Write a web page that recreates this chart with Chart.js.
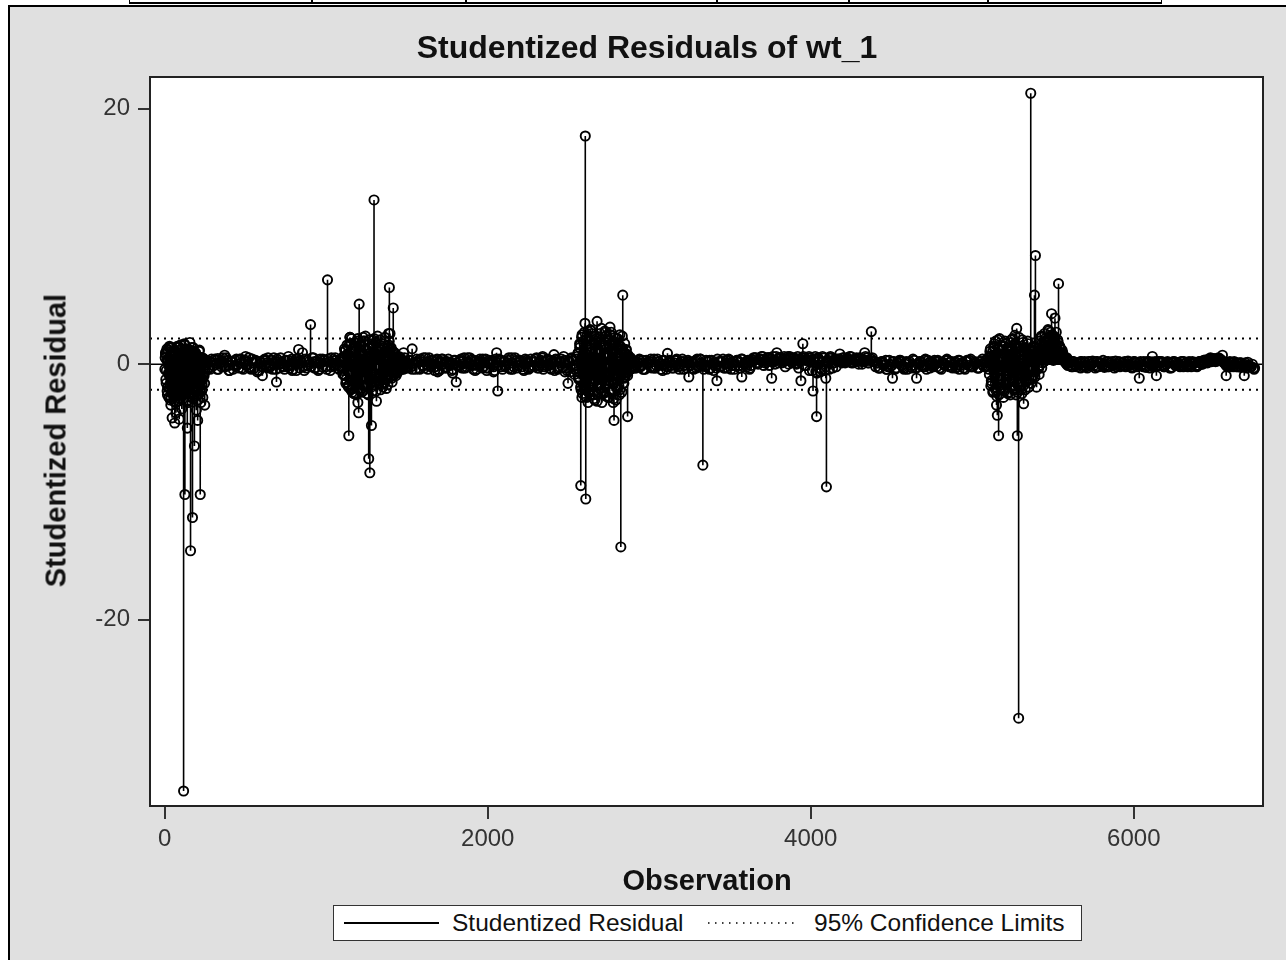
<!DOCTYPE html>
<html><head><meta charset="utf-8">
<script src="https://cdn.jsdelivr.net/npm/chart.js@4/dist/chart.umd.min.js"></script>
<style>
html,body{margin:0;padding:0;background:#fff;width:1286px;height:960px;overflow:hidden;font-family:'Liberation Sans',Arial,sans-serif;}
#panel{position:absolute;left:8px;top:5px;width:1290px;height:970px;background:#e0e0e0;border-left:2px solid #000;border-top:2px solid #000;}
#tbl{position:absolute;left:129px;top:-1px;width:1031px;height:2px;border:1.5px solid #000;border-bottom-width:2px;background:#fff;}
.vl{position:absolute;top:0;width:1.5px;height:100%;background:#000;}
#wrap{position:absolute;left:0;top:0;width:1286px;height:960px;}
.txt{position:absolute;color:#111;white-space:nowrap;}
#title{left:0;width:1294px;text-align:center;top:31px;font-size:32px;line-height:32px;font-weight:bold;}
#xtitle{left:407px;width:600px;text-align:center;top:866px;font-size:29px;line-height:29px;font-weight:bold;}
#ytitle{left:-144px;width:400px;text-align:center;top:426px;font-size:29px;line-height:29px;font-weight:bold;transform:rotate(-90deg);}
#legend{position:absolute;left:333px;top:905px;width:747px;height:34px;border:1.5px solid #333;background:#fff;}
#legend .lt{position:absolute;top:0;font-size:24.5px;line-height:34px;color:#111;white-space:nowrap;}
#legend svg{position:absolute;left:0;top:0;}
</style></head>
<body>
<div id="tbl"><div class="vl" style="left:181px"></div><div class="vl" style="left:335px"></div><div class="vl" style="left:586px"></div><div class="vl" style="left:718px"></div><div class="vl" style="left:857px"></div></div>
<div id="panel"></div>
<div id="wrap"><canvas id="c" width="1286" height="960"></canvas></div>
<div class="txt" id="title">Studentized Residuals of wt_1</div>
<div class="txt" id="xtitle">Observation</div>
<div class="txt" id="ytitle">Studentized Residual</div>
<div id="legend">
<svg width="747" height="34"><line x1="10" y1="17" x2="105" y2="17" stroke="#000" stroke-width="2"/><line x1="374" y1="17" x2="464" y2="17" stroke="#000" stroke-width="1.5" stroke-dasharray="1.5 5.5"/></svg>
<span class="lt" style="left:118px">Studentized Residual</span>
<span class="lt" style="left:480px">95% Confidence Limits</span>
</div>
<script>
// ---- data: notable points, [observation, studentized residual] ----
const region1 = [[5,0.8],[10,-0.5],[14,1.2],[18,-1.8],[22,0.3],[26,-2.6],[30,1.4],[34,-0.9],[38,-3.2],[42,0.6],[46,-4.2],[50,-1.5],[54,1.0],[58,-2.2],[62,-4.6],[66,0.2],[70,-3.8],[74,1.3],[78,-1.1],[82,-2.9],[86,0.7],[90,-4.3],[94,-0.3],[98,1.5],[102,-2.4],[106,-3.5],[110,0.9],[114,-1.7],[117,-33.4],[121,1.6],[125,-10.2],[128,-0.8],[132,-2.0],[136,1.2],[140,-5.0],[144,0.4],[148,-3.0],[152,-1.3],[156,1.7],[160,-14.6],[164,-0.6],[168,0.9],[172,-12.0],[176,-2.7],[180,1.0],[184,-6.4],[188,-1.9],[192,0.5],[196,-3.6],[200,-1.2],[204,-4.4],[208,0.6],[212,-2.3],[216,-0.4],[220,-10.2],[224,-3.0],[228,0.2],[232,-1.6],[236,-2.6],[240,0.4],[244,-0.9],[248,-3.2],[252,0.3]];
const bandA = [[258,0.3],[281,-0.4],[305,0.1],[329,0.45],[352,-0.2],[371,0.7],[398,-0.5],[421,0.2],[447,-0.1],[472,0.4],[501,0.6],[524,-0.3],[549,0.1],[573,-0.6],[605,-0.9],[628,0.3],[651,-0.2],[676,0.5],[692,-1.4],[718,0.0],[742,-0.4],[767,0.3],[790,-0.5],[812,0.4],[829,1.15],[853,0.9],[876,-0.3],[903,3.1],[927,0.2],[951,-0.5],[978,0.4],[1008,6.6],[1031,-0.2],[1056,0.5],[1079,-0.4]];
const region3 = [[1092,0.4],[1104,-0.8],[1113,1.2],[1121,-1.5],[1130,0.6],[1140,-5.6],[1147,2.1],[1155,1.6],[1163,-1.9],[1170,0.3],[1178,-2.3],[1186,1.4],[1196,-3.0],[1201,-3.8],[1204,4.7],[1212,-1.2],[1220,0.8],[1228,-2.1],[1236,1.8],[1244,-0.6],[1252,1.1],[1258,-1.7],[1263,-7.4],[1270,-8.5],[1276,0.9],[1280,-4.8],[1287,1.9],[1296,12.85],[1303,-1.4],[1311,-2.9],[1318,0.7],[1326,-0.9],[1334,1.3],[1342,-1.6],[1350,0.5],[1358,-0.7],[1366,1.0],[1374,-1.1],[1380,0.6],[1386,2.4],[1391,6.0],[1395,2.4],[1402,1.3],[1409,-0.5],[1415,4.4],[1422,0.8],[1430,-0.4],[1440,-0.7],[1452,0.5],[1466,-0.3],[1479,0.9],[1492,0.2]];
const bandB = [[1508,-0.3],[1532,1.2],[1556,0.2],[1579,-0.4],[1603,0.5],[1627,-0.1],[1650,0.3],[1672,-0.5],[1690,-0.6],[1714,0.4],[1738,-0.2],[1761,0.1],[1783,-0.7],[1805,-1.4],[1829,0.3],[1852,-0.3],[1876,0.5],[1899,-0.1],[1922,-0.5],[1946,0.2],[1969,0.4],[1992,-0.3],[2014,0.1],[2036,-0.6],[2055,0.9],[2062,-2.1],[2085,0.3],[2108,-0.2],[2131,0.5],[2155,-0.4],[2178,0.1],[2201,0.3],[2224,-0.5],[2247,0.2],[2270,-0.2],[2293,0.4],[2316,-0.3],[2340,0.6],[2363,-0.1],[2386,0.3],[2410,0.75],[2433,-0.4],[2456,0.2],[2478,-0.6],[2497,-1.5],[2518,0.5],[2538,-0.8]];
const region5 = [[2552,0.6],[2561,-1.1],[2569,1.3],[2576,-9.5],[2583,-2.6],[2590,1.8],[2596,-1.9],[2602,3.2],[2604,17.85],[2607,-10.55],[2614,2.2],[2621,-3.0],[2628,0.9],[2635,-2.4],[2642,2.6],[2649,-1.3],[2656,1.7],[2663,-2.8],[2670,0.5],[2677,3.35],[2684,-1.6],[2691,2.1],[2698,-0.8],[2707,-3.0],[2714,1.4],[2721,-2.2],[2728,2.5],[2735,-1.0],[2742,0.7],[2749,-2.6],[2757,2.9],[2764,-1.4],[2770,1.6],[2777,-3.0],[2782,-4.4],[2790,0.8],[2797,-1.8],[2804,2.0],[2811,-0.9],[2818,-2.0],[2824,-14.3],[2830,1.1],[2836,5.4],[2843,-1.5],[2850,0.6],[2858,1.15],[2866,-4.1],[2874,-0.5],[2886,0.4],[2898,-0.3]];
const bandC = [[2912,-0.2],[2936,0.3],[2961,-0.4],[2985,0.1],[3010,0.4],[3034,-0.3],[3059,0.2],[3083,-0.5],[3113,0.85],[3137,-0.1],[3162,0.3],[3186,-0.4],[3211,0.2],[3245,-1.0],[3268,0.1],[3292,-0.3],[3316,0.4],[3332,-7.9],[3350,-0.2],[3374,0.3],[3398,-0.5],[3419,-1.3],[3443,0.2],[3467,-0.3],[3492,0.4],[3516,-0.1],[3541,0.3],[3573,-1.0],[3597,0.2],[3621,-0.4],[3646,0.5],[3670,0.1],[3694,0.4],[3718,0.2],[3740,0.5],[3758,-1.1],[3775,0.3],[3790,0.9],[3812,0.5],[3836,0.2],[3860,0.6],[3884,0.1],[3908,0.4],[3925,-0.3],[3939,-1.3],[3951,1.6],[3970,0.3],[3992,-0.5],[4014,-2.1],[4028,0.6],[4036,-4.1],[4043,0.4],[4060,-0.6],[4076,0.2],[4093,-1.1],[4097,-9.6],[4115,0.5],[4138,0.1],[4160,0.4],[4180,0.8],[4203,0.2],[4227,0.5],[4251,0.1],[4275,0.3],[4299,0.4],[4318,0.2],[4334,0.9],[4352,0.3],[4375,2.55],[4396,0.2],[4420,-0.3],[4444,0.1],[4468,-0.4],[4492,-0.2],[4506,-1.1],[4530,-0.3],[4554,0.2],[4578,-0.4],[4602,0.1],[4626,-0.3],[4655,-1.1],[4679,0.2],[4703,-0.2],[4727,0.3],[4751,-0.1],[4775,0.2],[4799,-0.3],[4823,0.1],[4847,0.3],[4871,-0.2],[4895,0.2],[4919,-0.4],[4943,0.1],[4967,0.3],[4991,-0.2],[5015,0.2],[5039,-0.3],[5063,0.4],[5087,-0.2]];
const region7 = [[5107,0.6],[5118,-1.3],[5126,1.0],[5138,1.3],[5145,-2.0],[5150,-3.2],[5155,-4.0],[5163,-5.6],[5170,0.4],[5178,-1.6],[5186,1.45],[5193,-2.6],[5200,0.8],[5208,-1.2],[5216,1.1],[5224,-2.2],[5232,0.5],[5240,-1.8],[5248,1.2],[5256,-0.7],[5264,2.25],[5271,-2.4],[5275,2.8],[5279,-5.6],[5287,-27.7],[5295,1.0],[5303,-2.0],[5310,0.7],[5318,-3.1],[5326,1.3],[5334,-1.4],[5342,0.9],[5350,-1.8],[5356,1.1],[5362,21.2],[5370,-0.9],[5378,1.4],[5385,5.4],[5391,8.5],[5398,-1.8],[5406,1.2],[5414,-0.8],[5422,1.5],[5430,-0.3],[5438,1.4],[5446,0.4],[5454,1.8],[5462,0.6],[5470,2.0],[5478,0.9],[5485,2.5],[5491,3.95],[5498,1.2],[5505,2.2],[5512,3.6],[5520,1.6],[5527,0.8],[5534,6.3],[5542,1.3],[5550,0.6],[5560,0.9],[5572,0.3],[5585,0.5]];
const bandD = [[5598,0.3],[5622,-0.2],[5647,0.1],[5671,-0.3],[5696,0.2],[5720,-0.1],[5745,0.25],[5769,-0.2],[5794,0.1],[5818,-0.25],[5843,0.2],[5867,0.0],[5892,-0.2],[5916,0.15],[5941,-0.1],[5965,0.2],[5990,-0.3],[6012,0.1],[6034,-1.1],[6058,-0.2],[6082,0.2],[6100,-0.3],[6115,0.6],[6128,0.1],[6140,-0.9],[6163,0.2],[6187,-0.2],[6212,0.1],[6236,-0.25],[6261,0.15],[6285,-0.1],[6310,0.2],[6334,-0.2],[6359,0.1],[6383,-0.15],[6408,0.2],[6432,0.3],[6457,0.1],[6481,0.35],[6506,0.2],[6529,0.4],[6549,0.7],[6572,-0.9],[6595,0.2],[6618,-0.2],[6641,0.1],[6663,-0.25],[6684,-0.9],[6706,0.15],[6726,-0.2],[6745,-0.4]];

// ---- dense core of small residuals, estimated from the black band; observations firstObs, firstObs+step, ... ----
const fill1 = {firstObs: 3, step: 4, res: [0.5,-1.2,1.0,-2.1,0.2,-0.7,1.3,-1.6,-2.8,0.8,-0.3,-1.9,0.6,-2.5,1.1,-1.0,-3.0,0.3,-2.2,1.4,-0.5,-1.4,0.9,-2.7,-0.2,1.2,-1.8,-2.4,0.4,-0.9,1.5,-2.0,-1.1,0.7,-2.9,-0.4,1.0,-1.5,-2.3,0.1,-0.8,1.3,-2.6,-1.3,0.6,-1.9,-0.1,0.9,-2.2,-1.0,0.4,-2.8,-0.6,1.1,-1.7,-0.3,0.5,-2.0,-1.2,0.2,-0.7,-1.5,0.3]};
const fill1b = {firstObs: 1, step: 4, res: [-0.4,0.9,-1.5,0.3,-2.4,1.1,-0.8,-1.9,0.6,-2.6,1.3,-0.2,-1.3,0.8,-2.9,-0.6,1.0,-2.0,0.2,-1.6,-2.5,1.4,-0.9,0.5,-2.2,-1.1,1.2,-0.3,-2.7,0.7,-1.4,1.5,-2.1,-0.5,0.9,-1.8,-2.8,0.4,-1.0,1.1,-2.3,-0.7,0.3,-1.6,1.3,-2.5,-0.2,0.8,-1.9,-1.2,0.6,-2.4,-0.4,1.0,-1.5,-0.8,0.2,-2.1,0.5,-1.0,-0.3,0.4,-0.6]};
const fillA = {firstObs: 262, step: 14, res: [0.2,-0.3,0.4,-0.1,0.3,-0.4,0.1,0.5,-0.2,0.3,-0.5,0.2,-0.1,0.4,-0.3,0.1,-0.4,0.3,0.0,-0.2,0.4,-0.3,0.2,-0.5,0.1,0.3,-0.2,0.5,-0.1,-0.4,0.2,0.4,-0.3,0.1,-0.2,0.3,0.6,-0.1,-0.4,0.2,0.4,-0.3,0.1,-0.5,0.3,0.2,-0.2,0.5,-0.3,0.1,0.4,-0.2,0.3,-0.4,0.2,0.5,-0.1,0.3,-0.3,0.2]};
const fillA2 = {firstObs: 269, step: 14, res: [-0.3,0.2,-0.1,0.4,-0.4,0.1,0.3,-0.2,0.5,-0.1,0.2,-0.4,0.3,0.0,0.4,-0.3,0.2,-0.1,0.5,-0.4,0.1,0.3,-0.5,0.2,-0.2,0.4,0.1,-0.3,0.3,0.0,-0.4,0.2,0.5,-0.2,0.3,-0.1,-0.3,0.4,0.1,-0.5,0.2,0.3,-0.2,0.4,-0.1,0.0,0.5,-0.3,0.2,-0.4,0.1,0.3,-0.2,0.4,-0.5,0.1,0.3,-0.1,0.2,-0.3]};
const fill3 = {firstObs: 1096, step: 6, res: [0.3,-0.5,0.6,-0.9,1.1,-1.4,0.8,-1.8,1.6,-0.6,2.0,-2.2,0.4,1.3,-1.5,-2.4,1.8,-0.8,0.9,-2.0,1.5,-1.1,2.1,-0.3,-1.7,1.2,-2.3,0.6,1.9,-1.2,-0.5,1.4,-2.1,0.8,-1.6,1.7,-0.9,2.2,-1.3,0.5,-2.0,1.1,-0.7,1.6,-1.5,0.9,-1.9,1.3,-0.4,1.8,-1.0,0.7,-1.4,1.0,-0.6,0.8,-0.9,0.5,-0.5,0.6,-0.3,0.4,-0.4,0.3,-0.2,0.5,-0.3]};
const fill3b = {firstObs: 1099, step: 6, res: [-0.2,0.5,-0.8,1.0,-1.2,1.5,-1.7,0.4,2.1,-2.0,1.2,-0.6,-2.3,1.7,0.3,-1.4,2.0,-1.9,0.7,1.4,-2.2,-0.4,1.8,-1.0,2.2,-1.6,0.5,-2.4,1.3,0.9,-1.8,1.6,-0.6,2.0,-1.3,-2.1,1.0,0.4,-1.5,1.9,-0.9,1.4,-1.8,0.6,2.1,-1.2,0.3,-1.6,1.5,-0.8,1.2,-1.1,0.4,-0.9,0.9,-0.5,0.6,-0.6,0.4,-0.4,0.5,-0.2,0.3,-0.4,0.2,-0.3]};
const fillB = {firstObs: 1504, step: 14, res: [-0.2,0.3,-0.4,0.1,0.4,-0.3,0.2,-0.1,0.5,-0.4,0.1,0.3,-0.2,0.4,-0.5,0.2,0.0,-0.3,0.4,0.1,-0.4,0.3,-0.1,0.2,-0.3,0.5,-0.2,0.1,0.3,-0.4,0.2,-0.1,0.4,-0.3,0.1,-0.5,0.3,0.2,-0.2,0.4,-0.1,0.3,-0.4,0.2,0.1,-0.3,0.5,-0.2,0.3,-0.1,0.2,-0.4,0.4,0.1,-0.3,0.2,-0.2,0.5,-0.1,0.3,-0.4,0.2,0.4,-0.3,0.1,-0.5,0.3,-0.2,0.4,0.6,-0.3,0.2,-0.6,0.3,-0.4]};
const fillB2 = {firstObs: 1511, step: 14, res: [0.3,-0.2,0.1,-0.4,0.2,0.4,-0.1,-0.3,0.2,0.5,-0.2,0.0,0.3,-0.4,0.1,0.4,-0.3,0.2,-0.1,-0.5,0.3,0.1,-0.2,0.4,0.0,-0.3,0.2,0.5,-0.1,0.3,-0.4,0.1,0.2,-0.2,0.4,-0.3,0.0,0.3,-0.5,0.1,0.4,-0.2,0.2,-0.1,0.3,-0.4,0.1,0.5,-0.3,0.2,-0.2,0.0,0.3,-0.4,0.4,-0.1,0.2,-0.3,0.1,0.5,-0.2,0.3,-0.1,-0.4,0.2,0.4,-0.3,0.1,-0.2,0.3,-0.5,0.2,0.4,-0.1]};
const fill5 = {firstObs: 2548, step: 6, res: [0.4,-0.6,0.9,-1.2,1.5,-2.0,2.3,-1.6,0.7,-2.5,1.9,-0.9,2.6,-2.2,1.1,-1.8,2.4,-0.4,-2.7,1.6,-1.3,2.0,-2.4,0.8,1.7,-1.9,2.8,-1.0,-2.3,1.3,2.2,-1.5,0.5,-2.6,1.8,-0.7,2.5,-2.1,1.0,-1.4,2.1,-2.8,0.9,1.5,-1.7,2.3,-0.8,-2.2,1.2,-1.1,1.6,-0.6,0.8,-0.9,0.6,-0.4,0.5,-0.3,0.2]};
const fill5b = {firstObs: 2551, step: 6, res: [-0.3,0.8,-1.0,1.6,-1.8,2.1,-2.3,0.5,2.5,-1.2,-2.6,1.4,0.3,-2.0,2.7,-1.5,1.0,-2.4,2.2,-0.6,1.8,-2.9,0.9,-1.6,2.4,0.2,-2.1,1.5,-1.1,2.6,-2.5,0.6,1.9,-1.3,-2.2,2.3,-0.5,1.2,-2.7,1.7,-0.9,2.0,-1.9,0.4,-2.4,1.4,-0.7,2.2,-1.5,0.9,-1.0,1.1,-0.7,0.7,-0.5,0.4,-0.3,0.3]};
const fillC = {firstObs: 2904, step: 14, res: [0.2,-0.3,0.1,-0.2,0.3,-0.4,0.1,0.2,-0.3,0.4,-0.1,0.2,-0.4,0.3,0.0,-0.2,0.3,-0.3,0.1,0.4,-0.2,0.2,-0.4,0.1,0.3,-0.1,-0.3,0.2,0.4,-0.2,0.1,-0.4,0.3,0.2,-0.3,0.1,-0.1,0.4,-0.2,0.2,-0.3,0.3,0.1,-0.4,0.2,-0.1,0.3,-0.3,0.4,0.0,-0.2,0.3,-0.1,
  0.3,0.5,0.0,0.4,0.6,0.1,0.5,-0.1,0.4,0.2,0.6,0.1,0.5,0.3,-0.2,0.4,0.6,0.2,0.5,0.0,0.4,0.3,0.6,-0.1,0.3,0.5,
  -0.5,0.4,-0.7,0.2,-0.4,0.5,-0.2,0.3,0.6,-0.3,0.4,0.2,
  0.4,0.1,0.5,0.2,0.3,0.6,0.1,0.4,0.2,0.5,0.0,0.3,0.5,0.1,0.4,0.2,
  -0.2,0.1,-0.3,0.2,0.0,-0.4,0.3,-0.1,0.2,-0.3,0.1,0.3,-0.2,0.0,-0.4,0.2,-0.1,0.3,-0.3,0.1,0.2,-0.2,0.4,-0.1,-0.3,0.1,0.3,-0.2,0.2,-0.4,0.0,0.3,-0.1,0.2,-0.3,0.1,-0.2,0.3,0.1,-0.3,0.2,-0.1,0.4,-0.2,0.1,-0.3,0.2,0.0,-0.2,0.1]};
const fillC2 = {firstObs: 2911, step: 14, res: [-0.3,0.2,0.4,-0.1,-0.4,0.3,0.1,-0.2,0.2,-0.3,0.4,0.0,-0.1,0.3,-0.4,0.2,0.1,-0.3,0.3,-0.2,0.0,0.4,-0.1,-0.3,0.2,0.1,-0.4,0.3,-0.2,0.4,0.0,-0.1,0.2,-0.4,0.3,0.1,-0.3,0.2,-0.2,0.4,0.0,-0.3,0.3,0.1,-0.4,0.2,-0.1,0.4,-0.2,0.1,0.3,-0.3,0.2,
  0.5,0.1,0.4,0.6,-0.1,0.3,0.5,0.2,0.6,0.0,0.4,0.5,0.1,0.6,0.3,0.0,0.5,0.4,0.1,0.6,0.2,0.5,-0.1,0.4,0.6,0.2,
  0.3,-0.6,0.5,-0.3,0.6,-0.5,0.2,-0.4,0.5,0.1,-0.2,0.4,
  0.2,0.5,0.1,0.4,0.6,0.2,0.3,0.5,0.0,0.4,0.2,0.6,0.1,0.3,0.5,0.2,
  0.1,-0.3,0.2,-0.1,0.3,-0.2,0.0,0.2,-0.4,0.1,0.3,-0.1,-0.3,0.2,0.1,-0.2,0.4,-0.3,0.0,0.2,-0.1,0.3,-0.4,0.1,0.2,-0.2,0.0,0.3,-0.3,0.1,-0.1,0.4,-0.2,0.2,0.0,-0.3,0.3,-0.1,0.1,-0.4,0.2,0.3,-0.2,0.0,0.1,-0.3,0.2,-0.1,0.3]};
const fill7 = {firstObs: 5100, step: 6, res: [0.5,-0.8,1.2,-1.5,0.3,-2.1,1.6,-0.4,-1.8,0.9,1.9,-2.4,0.6,-1.1,1.4,-2.0,-0.3,1.8,-1.6,0.8,-2.3,1.1,-0.6,1.7,-1.3,2.0,-1.9,0.4,-0.9,1.5,-2.2,0.7,1.3,-1.4,-0.5,1.9,-1.7,0.9,-2.0,1.2,-0.8,1.6,-1.2,0.5,-1.5,1.0,-0.4,1.4,-1.0,0.8,
  0.2,1.3,-0.3,1.8,0.6,2.1,0.1,1.5,2.4,0.8,1.9,0.4,2.6,1.2,0.7,2.2,1.6,0.3,2.0,1.1,2.5,0.9,1.7,0.5,1.3,0.8,1.1,
  0.6,0.3,0.5,0.1,0.3,-0.1]};
const fill7b = {firstObs: 5103, step: 6, res: [-0.4,1.0,-1.7,0.6,-2.2,1.4,-0.9,1.8,-2.5,0.3,-1.2,2.0,-0.5,-1.9,1.1,0.4,-2.1,1.6,-0.7,1.3,-1.5,0.8,-2.4,1.9,-0.2,-1.1,1.5,-2.0,0.6,1.2,-1.6,2.1,-0.8,0.3,-2.3,1.7,-0.4,1.0,-1.4,0.7,1.8,-1.8,0.2,1.1,-1.1,0.6,-0.9,1.3,-0.6,0.5,
  1.0,-0.2,1.6,0.4,2.2,0.9,1.4,0.2,2.0,1.5,0.6,2.7,1.1,1.8,0.5,2.3,1.3,0.8,2.1,1.6,0.4,1.9,1.0,1.4,0.6,0.9,
  0.4,0.6,0.2,0.4,0.0,0.2]};
const fillD = {firstObs: 5600, step: 14, res: [0.1,-0.2,0.2,-0.1,0.0,0.2,-0.2,0.1,-0.3,0.2,0.0,-0.1,0.2,-0.2,0.1,0.3,-0.1,-0.2,0.1,0.2,-0.3,0.0,0.2,-0.1,0.1,-0.2,0.25,-0.1,0.0,0.2,-0.2,0.1,-0.1,0.2,-0.25,0.1,0.0,-0.2,0.2,-0.1,0.1,0.2,-0.2,0.0,0.1,-0.3,0.2,-0.1,0.1,-0.2,0.2,0.0,-0.1,0.2,-0.2,0.1,0.15,-0.1,0.2,0.0,0.1,
  0.3,0.4,0.2,0.45,0.3,0.5,0.35,0.2,
  0.0,-0.2,0.1,-0.1,0.2,-0.2,0.0,0.1,-0.2,0.1,-0.1,-0.2,0.0,-0.3]};
const fillD2 = {firstObs: 5607, step: 14, res: [-0.1,0.2,0.0,-0.2,0.1,0.2,-0.1,-0.2,0.2,0.0,0.1,-0.3,0.2,0.1,-0.1,0.0,0.2,-0.2,0.1,-0.1,0.25,0.0,-0.2,0.1,0.2,-0.1,0.0,-0.25,0.2,0.1,-0.1,0.2,0.0,-0.2,0.1,0.2,-0.1,0.0,-0.2,0.2,0.1,-0.1,0.0,0.2,-0.3,0.1,0.2,-0.1,0.0,0.2,-0.2,0.1,0.0,-0.1,0.2,0.1,-0.2,0.2,0.0,0.15,
  0.35,0.2,0.5,0.3,0.4,0.25,0.45,0.3,
  0.1,-0.1,0.0,-0.2,0.1,0.0,-0.2,0.1,-0.1,0.0,-0.3,-0.1,-0.2,-0.3]};

const confLimits = [-2, 2];
const xTickValues = [0, 2000, 4000, 6000];
const yTickValues = [-20, 0, 20];
const xRange = [-91, 6800];
const yRange = [-34.57, 22.47];

const expand = f => f.res.map((v, k) => [f.firstObs + k * f.step, v]);
const allPts = [].concat(
  [fill1, fill1b, fillA, fillA2, fill3, fill3b, fillB, fillB2, fill5, fill5b, fillC, fillC2, fill7, fill7b, fillD, fillD2].flatMap(expand),
  region1, bandA, region3, bandB, region5, bandC, region7, bandD);
const markers = allPts.map(p => ({x: p[0], y: p[1]}));
const needles = allPts.flatMap(p => [{x: p[0], y: 0}, {x: p[0], y: p[1]}, {x: p[0], y: null}]);
const hline = v => [{x: xRange[0], y: v}, {x: xRange[1], y: v}];

const FONT = "'Liberation Sans', Arial, sans-serif";
const frame = {
  id: 'frame',
  beforeDraw(chart) {
    const a = chart.chartArea, c = chart.ctx;
    c.save(); c.fillStyle = '#fff'; c.fillRect(a.left, a.top, a.right - a.left, a.bottom - a.top); c.restore();
  },
  afterDraw(chart) {
    const a = chart.chartArea, c = chart.ctx;
    c.save(); c.strokeStyle = '#222'; c.lineWidth = 2;
    c.strokeRect(a.left, a.top, a.right - a.left, a.bottom - a.top); c.restore();
  }
};

new Chart(document.getElementById('c'), {
  type: 'scatter',
  data: { datasets: [
    { type: 'scatter', label: 'Studentized Residual', data: markers, pointStyle: 'circle', pointRadius: 4.6,
      pointBorderWidth: 1.9, pointBorderColor: '#000', pointBackgroundColor: 'rgba(0,0,0,0)', order: 0 },
    { type: 'line', label: 'needles', data: needles, borderColor: '#000', borderWidth: 1.6, pointRadius: 0,
      spanGaps: false, fill: false, order: 2 },
    { type: 'line', label: 'zero', data: hline(0), borderColor: '#000', borderWidth: 1.5, pointRadius: 0, order: 3 },
    { type: 'line', label: '95% Confidence Limits', data: hline(confLimits[1]), borderColor: '#000', borderWidth: 2,
      borderDash: [2, 5], pointRadius: 0, order: 3 },
    { type: 'line', label: 'lower', data: hline(confLimits[0]), borderColor: '#000', borderWidth: 2,
      borderDash: [2, 5], pointRadius: 0, order: 3 }
  ]},
  options: {
    responsive: false, animation: false, events: [],
    layout: { padding: { left: 0, right: 23, top: 77, bottom: 104 } },
    plugins: { legend: { display: false }, tooltip: { enabled: false }, title: { display: false } },
    scales: {
      x: { type: 'linear', min: xRange[0], max: xRange[1],
        afterFit: s => { s.height = 50; },
        afterBuildTicks: s => { s.ticks = xTickValues.map(v => ({value: v})); },
        ticks: { font: { family: FONT, size: 24 }, color: '#333', padding: 6, maxRotation: 0, autoSkip: false,
          callback: v => String(v) },
        grid: { drawOnChartArea: false, drawTicks: true, tickLength: 13, color: '#333', lineWidth: 2 },
        border: { display: false } },
      y: { type: 'linear', min: yRange[0], max: yRange[1],
        afterFit: s => { s.width = 150; },
        afterBuildTicks: s => { s.ticks = yTickValues.map(v => ({value: v})); },
        ticks: { font: { family: FONT, size: 24 }, color: '#333', padding: 8, autoSkip: false,
          callback: v => String(v) },
        grid: { drawOnChartArea: false, drawTicks: true, tickLength: 12, color: '#333', lineWidth: 2 },
        border: { display: false } }
    }
  },
  plugins: [frame]
});
</script>
</body></html>
